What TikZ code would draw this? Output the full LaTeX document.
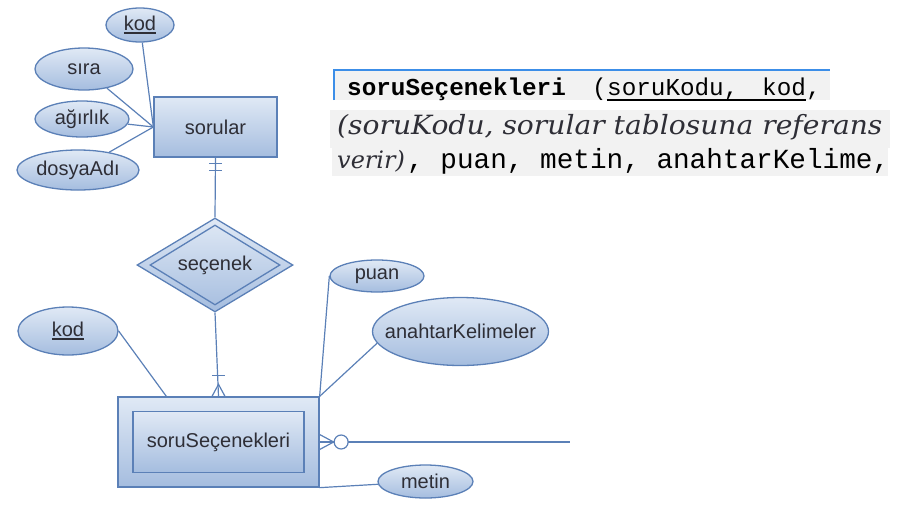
\documentclass[tikz,border=0pt]{standalone}
\usepackage{fontspec}
\setmainfont{Liberation Sans}
\newfontfamily\monof{Liberation Mono}
\newfontfamily\serifit{DejaVu Serif}
\usetikzlibrary{shapes.geometric,calc}
\definecolor{edgec}{HTML}{5B80B7}
\definecolor{topc}{HTML}{E0E9F5}
\definecolor{botc}{HTML}{A5BDDF}
\definecolor{txtc}{HTML}{2E2E36}
\definecolor{bgc}{HTML}{F2F2F2}
\definecolor{bluc}{HTML}{3C8EE8}
\newcommand\ulined[1]{\setbox0=\hbox{#1}\rlap{\rule[-3pt]{\wd0}{1.5pt}}\box0}
\begin{document}
\begin{tikzpicture}[x=1pt,y=-1pt,
  shp/.style={draw=edgec, line width=1.3pt, top color=topc, bottom color=botc, inner sep=0pt},
  attr/.style={shp, ellipse},
  lbl/.style={text=txtc, font=\fontsize{20}{23}\selectfont, inner sep=0pt},
  ent/.style={shp, rectangle, text=txtc, font=\fontsize{20}{23}\selectfont},
  conn/.style={draw=edgec, line width=1.2pt},
  mono/.style={anchor=base west, inner sep=0pt, text=black},
  monosm/.style={mono, font=\fontsize{24.3}{28}\selectfont\monof},
]
\useasboundingbox (0,0) rectangle (900,512);

% ---- text block (right) ----
\fill[bgc] (333,70) rectangle (830,100);
\draw[bluc, line width=2pt] (334,100) -- (334,70) -- (830,70);
\fill[bgc] (330,110) rectangle (890,148);
\fill[bgc] (332,148) rectangle (888,176);

\node[monosm, font=\fontsize{24.3}{28}\selectfont\monof\bfseries] (t1a) at (347,95) {soruSeçenekleri};
\node[monosm] (t1b) at (592,95) {(};
\node[monosm] (t1c) at (t1b.base east) {soruKodu,};
\node[monosm] (t1d) at (762,95) {kod};
\node[monosm] (t1e) at (t1d.base east) {,};
\draw[line width=1.2pt] ([yshift=-5pt]t1c.base west) -- ([yshift=-5pt]t1d.base east);

\node[mono, font=\fontsize{26.5}{30}\selectfont\serifit\itshape, text=txtc] (t2) at (337,134) {\scalebox{1.063}[1]{(soruKodu, sorular tablosuna referans}};
\node[mono, font=\fontsize{24}{28}\selectfont\serifit\itshape, text=txtc] (t3a) at (337,168) {verir)};
\node[mono, font=\fontsize{27.7}{32}\selectfont\monof] (t3b) at (407,168) {, puan, metin, anahtarKelime,};

% ---- sorular entity and attributes ----
\node[attr, minimum width=68pt, minimum height=34pt, label={[lbl]center:\ulined{kod}}] (kod1) at (140,25) {};
\node[attr, minimum width=98pt, minimum height=42pt, label={[lbl]center:sıra}] (sira) at (84,69) {};
\node[attr, minimum width=94pt, minimum height=36pt, label={[lbl]center:ağırlık}] (agirlik) at (82,119) {};
\node[attr, minimum width=122pt, minimum height=40pt, label={[lbl]center:dosyaAdı}] (dosya) at (78,170) {};
\node[ent, minimum width=123pt, minimum height=60pt] (sorular) at (215.5,127) {sorular};

\draw[conn] (kod1) -- (sorular.west);
\draw[conn] (sira) -- (sorular.west);
\draw[conn] (agirlik) -- (sorular.west);
\draw[conn] (dosya) -- (sorular.west);

% ---- relationship ----
\node[shp, diamond, minimum width=156pt, minimum height=94pt] (secenek) at (215,265) {};
\node[draw=edgec, line width=1.3pt, diamond, inner sep=0pt, minimum width=130pt, minimum height=80pt] (secin) at (secenek) {};
\node[lbl] (sectxt) at (secenek) {seçenek};

\draw[conn] (sorular.south) -- (secenek.north);
\draw[conn] ($(sorular.south)+(-6.5,6)$) -- ++(13,0);
\draw[conn] ($(sorular.south)+(-6.5,13)$) -- ++(13,0);

% ---- soruSecenekleri weak entity ----
\node[ent, minimum width=201pt, minimum height=90pt] (soruS) at (218.5,442) {};
\node[ent, minimum width=171pt, minimum height=61pt] (soruSin) at (soruS) {soruSeçenekleri};

\draw[conn] (secenek.south) -- (soruS.north);
\draw[conn] ($(soruS.north)+(-6.5,-21)$) -- ++(13,0);
\coordinate (cf) at ($(soruS.north)+(0,-12)$);
\draw[conn] ($(soruS.north)+(-6.5,0)$) -- (cf) -- ($(soruS.north)+(6.5,0)$);

\node[attr, minimum width=100pt, minimum height=48pt, label={[lbl]center:\ulined{kod}}] (kod2) at (68,331) {};
\node[attr, minimum width=94pt, minimum height=32pt, label={[lbl]center:puan}] (puan) at (377,276) {};
\node[attr, minimum width=176pt, minimum height=68pt, label={[lbl]center:anahtarKelimeler}] (anahtar) at (460.5,331.5) {};
\node[attr, minimum width=95pt, minimum height=33pt, label={[lbl]center:metin}] (metin) at (425.5,481.5) {};

\draw[conn] (kod2.east) -- ($(soruS.north west)+(49,0)$);
\draw[conn] (puan.west) -- (soruS.north east);
\draw[conn] (anahtar.188) -- (soruS.north east);
\draw[conn] (soruS.south east) -- (metin);

% ---- outgoing connector ----
\coordinate (rend) at (570,442);
\draw[conn] (soruS.east) -- (rend);
\draw[conn] ($(soruS.east)+(0,-7.5)$) -- ($(soruS.east)+(14,0)$) -- ($(soruS.east)+(0,7.5)$);
\node[circle, draw=edgec, line width=1.2pt, fill=white, minimum size=14pt, inner sep=0pt] (ocirc) at ($(soruS.east)+(21.5,0)$) {};
\end{tikzpicture}
\end{document}
